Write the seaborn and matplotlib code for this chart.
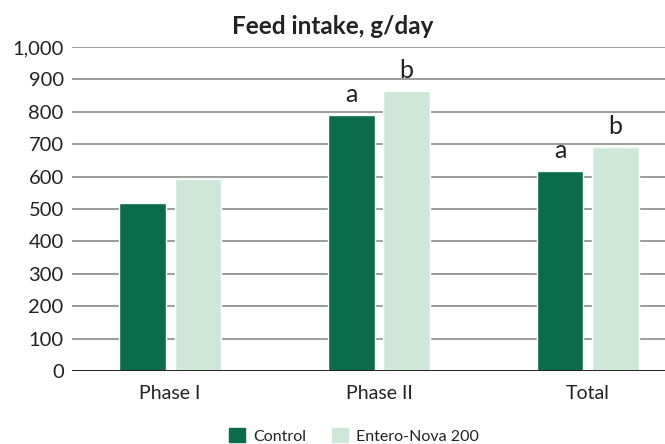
import matplotlib
matplotlib.use("Agg")
import matplotlib.pyplot as plt
import seaborn as sns
import pandas as pd
from matplotlib.patches import Patch

categories = ["Phase I", "Phase II", "Total"]
groups = ["Control", "Entero-Nova 200"]
control = [520, 790, 617]
entero = [592, 864, 691]
letters_control = ["", "a", "a"]
letters_entero = ["", "b", "b"]
colors = ["#0b6b4a", "#cde8d8"]

df = pd.DataFrame({
    "Phase": categories * 2,
    "Group": [groups[0]] * 3 + [groups[1]] * 3,
    "Value": control + entero,
})

sns.set_theme(style="white")
plt.rcParams["font.family"] = ["Lato", "DejaVu Sans"]

fig = plt.figure(figsize=(6.65, 4.44), dpi=100)
ax = fig.add_axes([72 / 665, 1 - 371 / 444, 1 - 72 / 665, (371 - 47) / 444])

sns.barplot(data=df, x="Phase", y="Value", hue="Group", palette=colors,
            width=0.53, gap=0.16, ax=ax, legend=False, saturation=1)

ax.set_ylim(0, 1000)
ax.set_xlim(-0.47, 2.37)
ax.set_yticks(range(0, 1001, 100))
ax.set_yticklabels([f"{v:,}" for v in range(0, 1001, 100)], fontsize=14.5, color="#222222")
ax.tick_params(axis="x", labelsize=14, colors="#222222", length=0, pad=10)
ax.tick_params(axis="y", length=0, pad=6)
ax.set_xlabel("")
ax.set_ylabel("")
for s in ax.spines.values():
    s.set_visible(False)
for v in range(100, 1001, 100):
    ax.axhline(v, color="#8a8a8a", lw=1.2, zorder=0)
ax.axhline(0, color="#222222", lw=1.4, zorder=3)

# letters
containers = ax.containers
for cont, labs in zip(containers, [letters_control, letters_entero]):
    for bar, lab in zip(cont, labs):
        if lab:
            ax.annotate(lab, (bar.get_x() + bar.get_width() / 2, bar.get_height()),
                        xytext=(0, 6.5), textcoords="offset points",
                        ha="center", va="bottom", fontsize=18, color="#222222")

fig.text(0.5, 1 - 27 / 444, "Feed intake, g/day", ha="center", va="center",
         fontsize=17.5, fontweight="bold", color="#222222")

handles = [Patch(color=c, label=g) for c, g in zip(colors, groups)]
fig.legend(handles=handles, loc="center", bbox_to_anchor=(354 / 665, 1 - 436 / 444),
           ncol=2, frameon=False, fontsize=11.5, handlelength=1.0, handleheight=1.0,
           columnspacing=1.6, handletextpad=0.5, labelcolor="#222222")

fig.savefig("out.png", dpi=100)
